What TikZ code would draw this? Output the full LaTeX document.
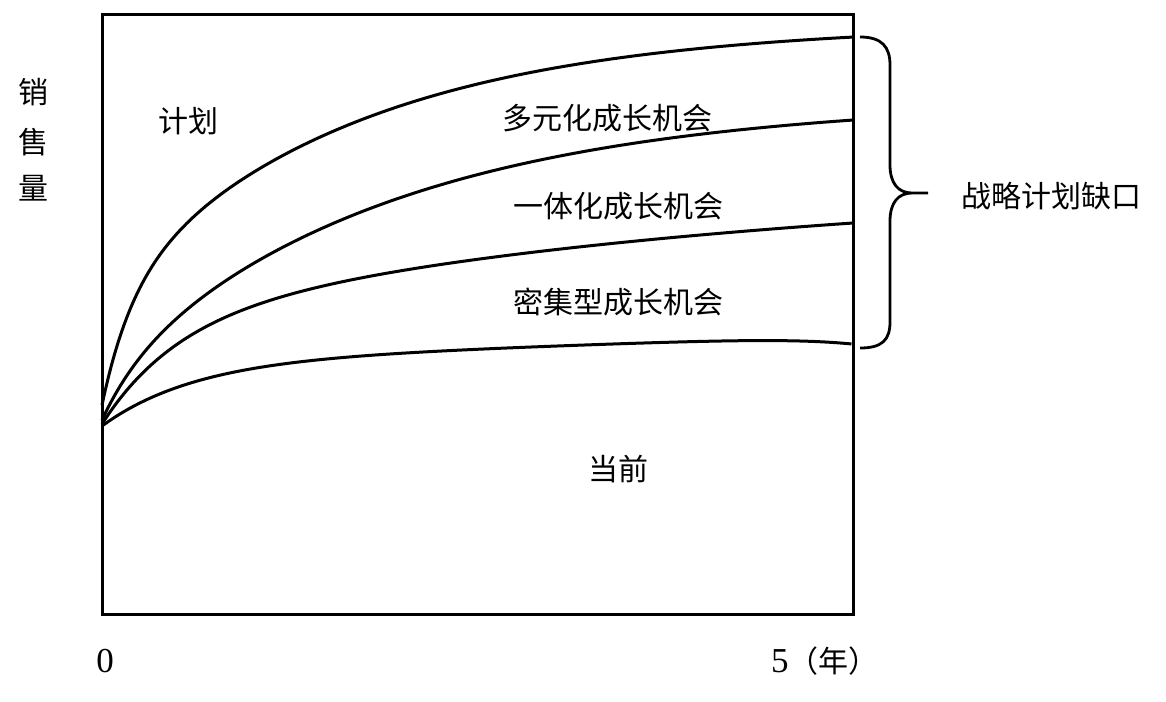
\documentclass[tikz,border=0pt]{standalone}
\usepackage{fontspec}
\setmainfont{Liberation Serif}
\newfontfamily\cjk{Noto Sans CJK SC}
\begin{document}
\begin{tikzpicture}[x=1pt,y=-1pt,
  frameline/.style={line width=3pt},
  curve/.style={line width=3pt, line join=round},
  bracel/.style={line width=2.8pt},
  lbl/.style={font=\cjk\fontsize{30}{36}\selectfont, inner sep=0pt},
  num/.style={font=\fontsize{35}{40}\selectfont, inner sep=0pt}]
\useasboundingbox (0,0) rectangle (1166,701);
% frame
\draw[frameline] (102,15) rectangle (853,614);
% curves
\draw[curve] plot[domain=0:1, samples=240, variable=\t]
  ({102+751*\t}, {405-368*(0.3*(1-exp(-25*\t))+0.7*(1-exp(-3*\t))/(1-exp(-3)))});
\draw[curve] plot[domain=0:1, samples=240, variable=\t]
  ({102+751*\t}, {420-300*(0.15*(1-exp(-20*\t))+0.85*(1-exp(-2.6*\t))/(1-exp(-2.6)))});
\draw[curve] plot[domain=0:1, samples=240, variable=\t]
  ({102+751*\t}, {424-201*(0.5*(1-exp(-10*\t))+0.5*(1-exp(-1.2*\t))/(1-exp(-1.2)))});
\draw[curve] plot[domain=0:1, samples=240, variable=\t]
  ({102+750*\t}, {426-82*(0.8*(1-exp(-8*\t))+0.3*\t-0.1*\t^12)});
% brace
\coordinate (btop) at (860,37);
\coordinate (btip) at (928,193);
\coordinate (bbot) at (860,348);
\draw[bracel] (btop) .. controls (882,37) and (890,47) .. (890,65)
  -- (890,165) .. controls (890,183) and (898,193) .. (912,193) -- (btip)
  (912,193) .. controls (898,193) and (890,203) .. (890,221)
  -- (890,322) .. controls (890,340) and (882,348) .. (bbot);
% labels
\node[lbl] (yl1) at (33,92) {销};
\node[lbl] (yl2) at (33,142) {售};
\node[lbl] (yl3) at (33,188) {量};
\node[lbl] (plan) at (188,121) {计划};
\node[lbl] (divers) at (607,118) {多元化成长机会};
\node[lbl] (integ) at (618,206) {一体化成长机会};
\node[lbl] (intens) at (618,302) {密集型成长机会};
\node[lbl] (curr) at (618,469) {当前};
\node[lbl] (gap) at (1051,196) {战略计划缺口};
\node[num] (t0) at (105,661) {0};
\node[num, anchor=west] (t5) at (771,661) {5{\cjk\fontsize{30}{36}\selectfont （年）}};
\end{tikzpicture}
\end{document}
